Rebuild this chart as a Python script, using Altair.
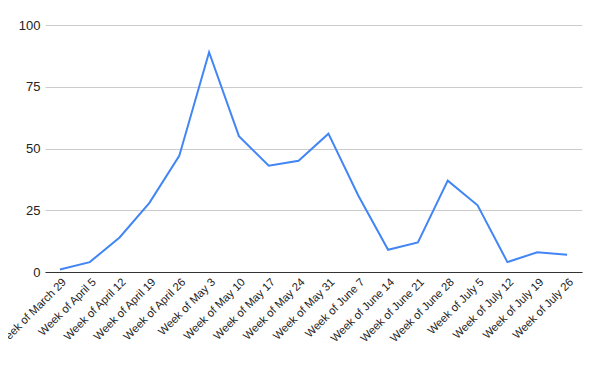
import altair as alt
import pandas as pd

weeks = ["Week of March 29", "Week of April 5", "Week of April 12", "Week of April 19",
         "Week of April 26", "Week of May 3", "Week of May 10", "Week of May 17",
         "Week of May 24", "Week of May 31", "Week of June 7", "Week of June 14",
         "Week of June 21", "Week of June 28", "Week of July 5", "Week of July 12",
         "Week of July 19", "Week of July 26"]
values = [1, 4, 14, 28, 47, 89, 55, 43, 45, 56, 31, 9, 12, 37, 27, 4, 8, 7]
y_ticks = [0, 25, 50, 75, 100]

df = pd.DataFrame({"week": weeks, "value": values})

chart = alt.Chart(df).mark_line(color="#4285F4", strokeWidth=2).encode(
    x=alt.X("week:N", sort=weeks, title=None,
            scale=alt.Scale(type="point", padding=0.5),
            axis=alt.Axis(labelAngle=-45, labelFontSize=11.3, labelFont="Liberation Sans",
                          labelColor="#222222", ticks=False, domainColor="#333333",
                          domainWidth=1, labelPadding=4, grid=False, labelOverlap=False)),
    y=alt.Y("value:Q", title=None, scale=alt.Scale(domain=[0, 100]),
            axis=alt.Axis(values=y_ticks, labelFontSize=13, labelFont="Liberation Sans",
                          labelColor="#222222", ticks=False, domain=False,
                          gridColor="#cccccc", labelPadding=5)),
).properties(
    width=537, height=247,
    autosize=alt.AutoSizeParams(type="none"),
    padding={"left": 37, "top": 17, "right": 10, "bottom": 90},
).configure_view(stroke=None)

chart.save("out.html", embed_options={"renderer": "svg", "actions": False})
